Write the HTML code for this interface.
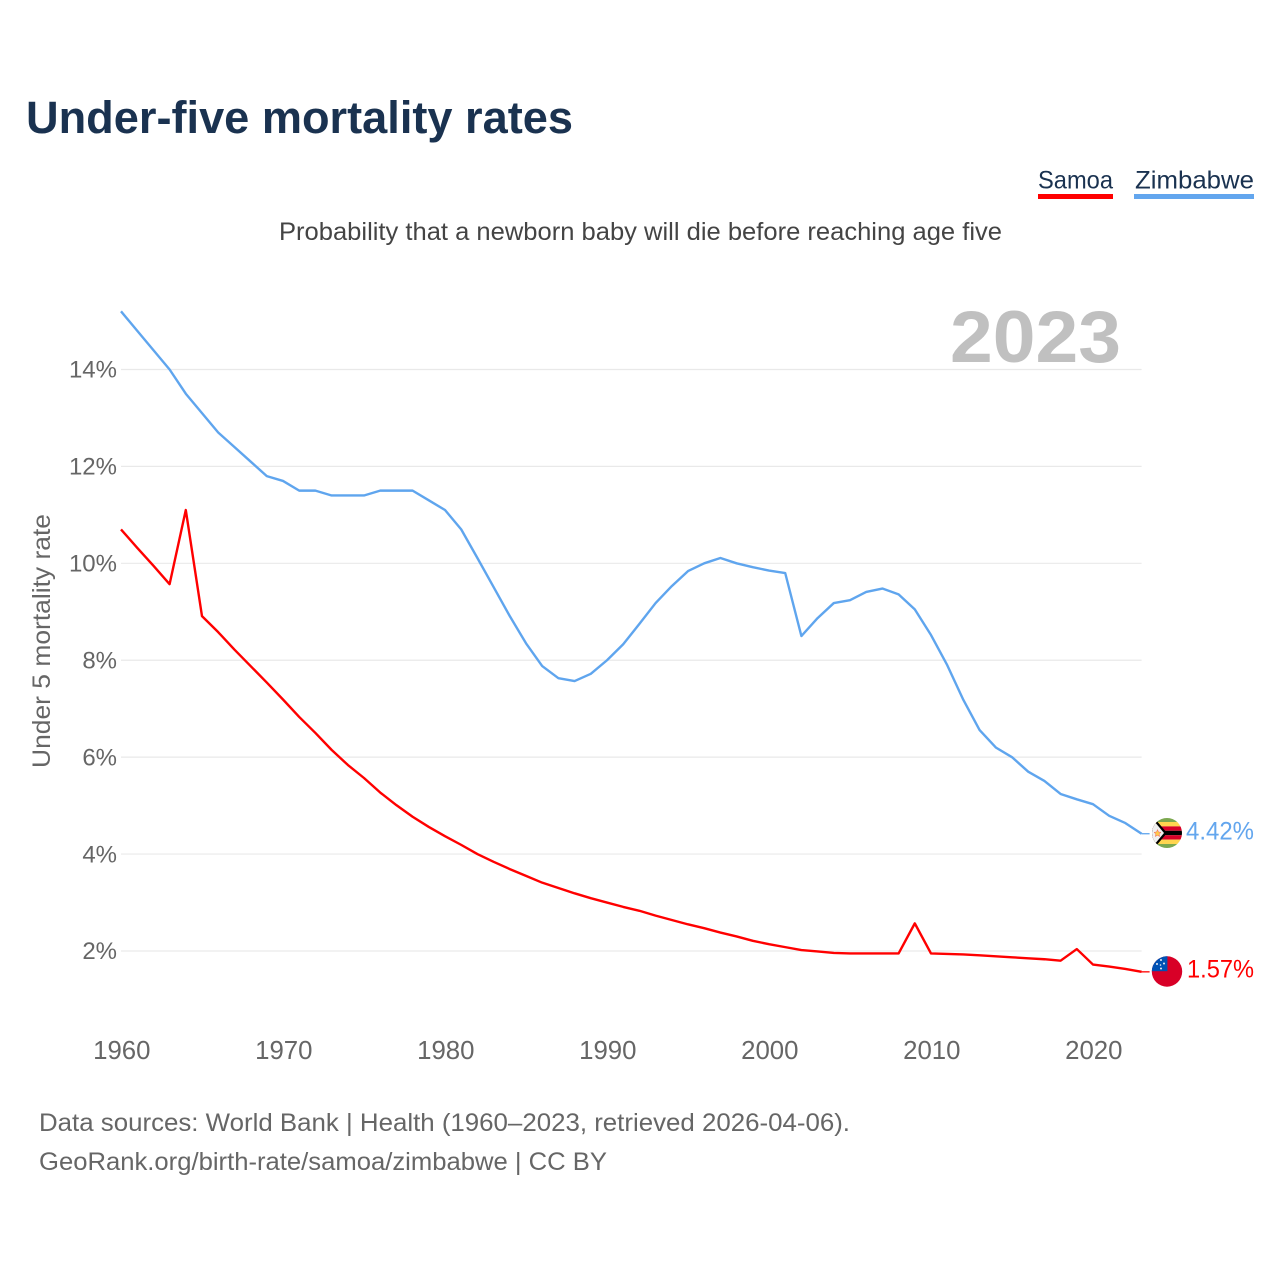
<!DOCTYPE html>
<html lang="en">
<head>
<meta charset="utf-8">
<title>Under-five mortality rates</title>
<style>
  html, body { margin: 0; padding: 0; background: #fff; }
  svg { display: block; font-family: "Liberation Sans", sans-serif; }
</style>
</head>
<body>
<svg id="chart" xmlns="http://www.w3.org/2000/svg" width="1280" height="1280" viewBox="0 0 1280 1280">
  <rect width="1280" height="1280" fill="#ffffff"/>
  <text x="26" y="133" font-size="45" font-weight="700" fill="#1a3250" textLength="547" lengthAdjust="spacingAndGlyphs">Under-five mortality rates</text>

  <g>
    <text x="1038" y="188.5" font-size="25" fill="#1a3250" textLength="75" lengthAdjust="spacingAndGlyphs">Samoa</text>
    <rect x="1038" y="194" width="75" height="5" fill="#ff0000"/>
  </g>
  <g>
    <text x="1135" y="188.5" font-size="25" fill="#1a3250" textLength="119" lengthAdjust="spacingAndGlyphs">Zimbabwe</text>
    <rect x="1134" y="194" width="120" height="5" fill="#63a6ee"/>
  </g>

  <text x="279" y="240" font-size="25" fill="#444444" textLength="723" lengthAdjust="spacingAndGlyphs">Probability that a newborn baby will die before reaching age five</text>

  <g id="grid"></g>
  <text x="950" y="362" font-size="73" font-weight="700" fill="#c0c0c0" textLength="171" lengthAdjust="spacingAndGlyphs">2023</text>
  <g id="yticks"></g>
  <g id="xticks"></g>
  <text transform="translate(50 768) rotate(-90)" font-size="25" fill="#666666" textLength="254" lengthAdjust="spacingAndGlyphs">Under 5 mortality rate</text>

  <g id="lines"></g>

  <defs>
    <clipPath id="clip-zw"><circle cx="1167" cy="833" r="15"/></clipPath>
    <clipPath id="clip-ws"><circle cx="1167" cy="971.5" r="15.2"/></clipPath>
  </defs>

  <g clip-path="url(#clip-zw)">
    <rect x="1152" y="818" width="30" height="30" fill="#f0f0f0"/>
    <rect x="1152" y="817" width="30" height="5" fill="#7ca84f"/>
    <rect x="1152" y="822" width="30" height="4.4" fill="#ffd54f"/>
    <rect x="1152" y="826.4" width="30" height="4.4" fill="#d80027"/>
    <rect x="1152" y="830.8" width="30" height="4.4" fill="#000000"/>
    <rect x="1152" y="835.2" width="30" height="4.4" fill="#d80027"/>
    <rect x="1152" y="839.6" width="30" height="4.4" fill="#ffd54f"/>
    <rect x="1152" y="844" width="30" height="5" fill="#7ca84f"/>
    <polygon points="1152,817 1156,820 1167,833 1156,846 1152,849" fill="#000000"/>
    <polygon points="1152,819 1154,821 1164,833 1154,845 1152,847" fill="#f0f0f0"/>
    <polygon points="1157.5,829.5 1158.5,832 1161,832.3 1159.2,834 1159.7,836.5 1157.5,835.3 1155.3,836.5 1155.8,834 1154,832.3 1156.5,832" fill="#ffc94a" stroke="#f0605a" stroke-width="0.5"/>
  </g>
  <g clip-path="url(#clip-ws)">
    <rect x="1151" y="956" width="32" height="31" fill="#d80027"/>
    <rect x="1151" y="956" width="16.4" height="15.2" fill="#0052b4"/>
    <circle cx="1161" cy="960" r="1" fill="#e8eef6"/>
    <circle cx="1157" cy="964" r="1" fill="#e8eef6"/>
    <circle cx="1164" cy="963.5" r="1" fill="#e8eef6"/>
    <circle cx="1160.5" cy="965" r="0.8" fill="#e8eef6"/>
    <circle cx="1161" cy="968.5" r="1" fill="#e8eef6"/>
  </g>

  <text x="1186" y="839.5" font-size="25" fill="#63a6ee" textLength="68" lengthAdjust="spacingAndGlyphs">4.42%</text>
  <text x="1187" y="977.5" font-size="25" fill="#ff0000" textLength="67" lengthAdjust="spacingAndGlyphs">1.57%</text>

  <text x="39" y="1131" font-size="25" fill="#666666" textLength="811" lengthAdjust="spacingAndGlyphs">Data sources: World Bank | Health (1960–2023, retrieved 2026-04-06).</text>
  <text x="39" y="1170" font-size="25" fill="#666666" textLength="568" lengthAdjust="spacingAndGlyphs">GeoRank.org/birth-rate/samoa/zimbabwe | CC BY</text>
</svg>

<script>
const startYear = 1960;
const xTickYears = [1960, 1970, 1980, 1990, 2000, 2010, 2020];
const yTickValues = [2, 4, 6, 8, 10, 12, 14];
const zimbabweValues = [
  15.2, 14.8, 14.4, 14.0, 13.5, 13.1, 12.7, 12.4, 12.1, 11.8,
  11.7, 11.5, 11.5, 11.4, 11.4, 11.4, 11.5, 11.5, 11.5, 11.3,
  11.1, 10.7, 10.11, 9.51, 8.91, 8.35, 7.88, 7.63, 7.57, 7.72,
  8.0, 8.33, 8.75, 9.18, 9.53, 9.84, 10.0, 10.11, 10.0, 9.92,
  9.85, 9.8, 8.5, 8.87, 9.18, 9.24, 9.41, 9.48, 9.36, 9.05,
  8.52, 7.9, 7.18, 6.56, 6.2, 6.0, 5.7, 5.51, 5.24, 5.13,
  5.03, 4.79, 4.64, 4.42
];
const samoaValues = [
  10.7, 10.32, 9.95, 9.57, 11.1, 8.91, 8.58, 8.22, 7.88, 7.54,
  7.19, 6.83, 6.5, 6.15, 5.84, 5.57, 5.27, 5.01, 4.77, 4.56,
  4.37, 4.19, 4.0, 3.84, 3.69, 3.55, 3.41, 3.3, 3.19, 3.09,
  3.0, 2.91, 2.83, 2.73, 2.64, 2.55, 2.47, 2.38, 2.3, 2.21,
  2.14, 2.08, 2.02, 1.99, 1.96, 1.95, 1.95, 1.95, 1.95, 2.57,
  1.95, 1.94, 1.93, 1.91, 1.89, 1.87, 1.85, 1.83, 1.8, 2.04,
  1.72, 1.68, 1.63, 1.57
];

const svgNS = 'http://www.w3.org/2000/svg';
function xScale(year) { return 121 + (year - 1960) * 16.2; }
function yScale(value) { return 951 - (value - 2) * 48.46; }

const gridGroup = document.getElementById('grid');
const yGroup = document.getElementById('yticks');
yTickValues.forEach(function (v) {
  const line = document.createElementNS(svgNS, 'line');
  
  
  line.setAttribute('x1', xScale(1960));
  line.setAttribute('x2', xScale(2023));
  line.setAttribute('y1', yScale(v));
  line.setAttribute('y2', yScale(v));
  line.setAttribute('stroke', '#e9e9e9');
  line.setAttribute('stroke-width', '1.2');
  gridGroup.appendChild(line);

  const label = document.createElementNS(svgNS, 'text');
  
  
  label.setAttribute('x', 117);
  label.setAttribute('y', yScale(v) + 8.2);
  label.setAttribute('text-anchor', 'end');
  label.setAttribute('font-size', '24');
  label.setAttribute('fill', '#666666');
  label.textContent = v + '%';
  yGroup.appendChild(label);
});

const xGroup = document.getElementById('xticks');
xTickYears.forEach(function (year) {
  const label = document.createElementNS(svgNS, 'text');
  
  
  label.setAttribute('x', xScale(year) + 0.8);
  label.setAttribute('y', 1059);
  label.setAttribute('text-anchor', 'middle');
  label.setAttribute('font-size', '25.8');
  label.setAttribute('fill', '#666666');
  label.textContent = String(year);
  xGroup.appendChild(label);
});

function seriesPoints(values) {
  return values.map(function (v, i) {
    return xScale(startYear + i).toFixed(2) + ',' + yScale(v).toFixed(2);
  }).join(' ');
}

function addLeader(values, color, name) {
  const lastYear = startYear + values.length - 1;
  const lastValue = values[values.length - 1];
  const leader = document.createElementNS(svgNS, 'line');
  
  
  leader.setAttribute('x1', xScale(lastYear));
  leader.setAttribute('x2', xScale(lastYear) + 8);
  leader.setAttribute('y1', yScale(lastValue));
  leader.setAttribute('y2', yScale(lastValue));
  leader.setAttribute('stroke', color);
  leader.setAttribute('stroke-width', '1.3');
  lineGroup.appendChild(leader);
}

const lineGroup = document.getElementById('lines');
const zimLine = document.createElementNS(svgNS, 'polyline');


zimLine.setAttribute('points', seriesPoints(zimbabweValues));
zimLine.setAttribute('fill', 'none');
zimLine.setAttribute('stroke', '#5fa5ee');
zimLine.setAttribute('stroke-width', '2.4');
zimLine.setAttribute('stroke-linejoin', 'round');
lineGroup.appendChild(zimLine);
addLeader(zimbabweValues, '#5fa5ee', 'zimbabwe-leader-line');

const samLine = document.createElementNS(svgNS, 'polyline');


samLine.setAttribute('points', seriesPoints(samoaValues));
samLine.setAttribute('fill', 'none');
samLine.setAttribute('stroke', '#ff0000');
samLine.setAttribute('stroke-width', '2.4');
samLine.setAttribute('stroke-linejoin', 'round');
lineGroup.appendChild(samLine);
addLeader(samoaValues, '#ff0000', 'samoa-leader-line');
</script>
</body>
</html>
